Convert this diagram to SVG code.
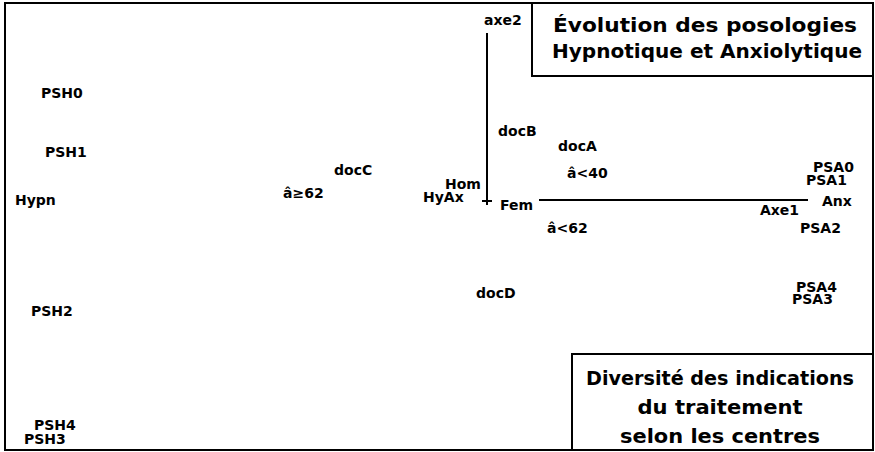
<svg xmlns="http://www.w3.org/2000/svg" width="875" height="452" viewBox="0 0 875 452">
<style>
.lbl{font-family:"DejaVu Sans","Liberation Sans",sans-serif;font-weight:bold;font-size:14px;fill:#000}
.ttl{font-family:"DejaVu Sans","Liberation Sans",sans-serif;font-weight:bold;font-size:20px;fill:#000;text-anchor:middle}
.frame{fill:none;stroke:#000;stroke-width:2}
.axis{stroke:#000;stroke-width:2;fill:none}
</style>
<rect width="875" height="452" fill="#fff"/>
<rect class="frame" x="5" y="3" width="868" height="447"/>
<g id="title-top">
<rect class="frame" x="532" y="3" width="341" height="73" fill="#fff"/>
<text class="ttl" x="705" y="32" textLength="304" lengthAdjust="spacingAndGlyphs">Évolution des posologies</text>
<text class="ttl" x="707" y="58" textLength="310" lengthAdjust="spacingAndGlyphs">Hypnotique et Anxiolytique</text>
</g>
<g id="title-bottom">
<rect class="frame" x="572" y="354" width="301" height="96" fill="#fff"/>
<text class="ttl" x="720" y="385" textLength="268" lengthAdjust="spacingAndGlyphs">Diversité des indications</text>
<text class="ttl" x="720" y="414" textLength="165" lengthAdjust="spacingAndGlyphs">du traitement</text>
<text class="ttl" x="720" y="443" textLength="200" lengthAdjust="spacingAndGlyphs">selon les centres</text>
</g>
<g id="connectors">
<line class="axis" x1="487" y1="33" x2="487" y2="205"/>
<line class="axis" x1="482" y1="201" x2="492" y2="201" stroke-width="1.5"/>
<line class="axis" x1="539" y1="200" x2="808" y2="200"/>
</g>
<g id="axe2"><text class="lbl" x="484" y="25">axe2</text></g>
<g id="Axe1"><text class="lbl" x="760" y="215">Axe1</text></g>
<g id="PSH0"><text class="lbl" x="41" y="98">PSH0</text></g>
<g id="PSH1"><text class="lbl" x="45" y="157">PSH1</text></g>
<g id="Hypn"><text class="lbl" x="15" y="205">Hypn</text></g>
<g id="age62plus"><text class="lbl" x="283" y="198">â≥62</text></g>
<g id="docC"><text class="lbl" x="334" y="175">docC</text></g>
<g id="Hom"><text class="lbl" x="445" y="189">Hom</text></g>
<g id="HyAx"><text class="lbl" x="423" y="202">HyAx</text></g>
<g id="Fem"><text class="lbl" x="500" y="210">Fem</text></g>
<g id="docB"><text class="lbl" x="498" y="136">docB</text></g>
<g id="docA"><text class="lbl" x="558" y="151">docA</text></g>
<g id="age40"><text class="lbl" x="567" y="178">â&lt;40</text></g>
<g id="age62"><text class="lbl" x="547" y="233">â&lt;62</text></g>
<g id="PSA0"><text class="lbl" x="813" y="172">PSA0</text></g>
<g id="PSA1"><text class="lbl" x="806" y="185">PSA1</text></g>
<g id="Anx"><text class="lbl" x="822" y="206">Anx</text></g>
<g id="PSA2"><text class="lbl" x="800" y="233">PSA2</text></g>
<g id="docD"><text class="lbl" x="476" y="298">docD</text></g>
<g id="PSA4"><text class="lbl" x="796" y="292">PSA4</text></g>
<g id="PSA3"><text class="lbl" x="792" y="304">PSA3</text></g>
<g id="PSH2"><text class="lbl" x="31" y="316">PSH2</text></g>
<g id="PSH4"><text class="lbl" x="34" y="430">PSH4</text></g>
<g id="PSH3"><text class="lbl" x="24" y="444">PSH3</text></g>
</svg>
